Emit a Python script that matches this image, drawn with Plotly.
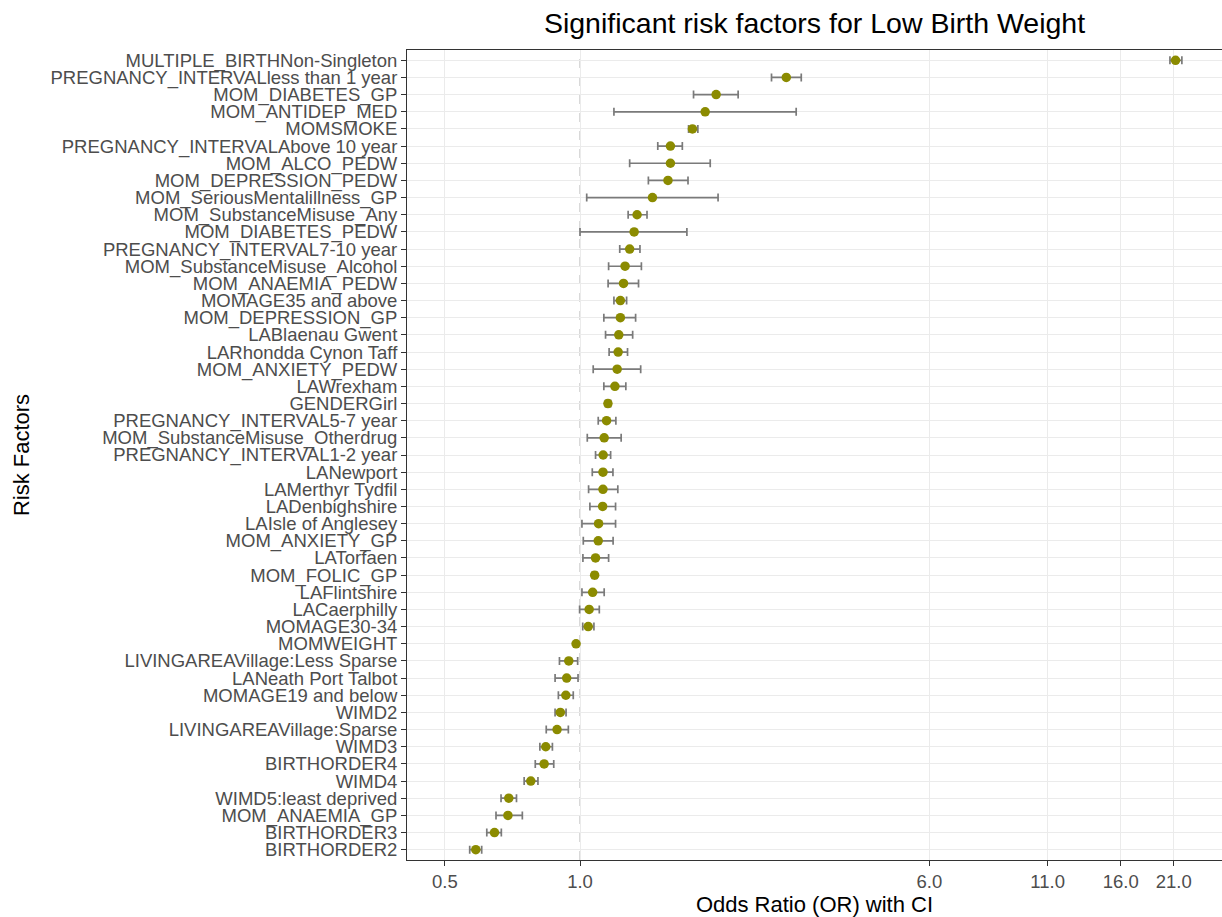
import plotly.graph_objects as go

# Risk factors listed top-to-bottom as in the chart
factors = [
    "MULTIPLE_BIRTHNon-Singleton", "PREGNANCY_INTERVALless than 1 year", "MOM_DIABETES_GP",
    "MOM_ANTIDEP_MED", "MOMSMOKE", "PREGNANCY_INTERVALAbove 10 year", "MOM_ALCO_PEDW",
    "MOM_DEPRESSION_PEDW", "MOM_SeriousMentalillness_GP", "MOM_SubstanceMisuse_Any",
    "MOM_DIABETES_PEDW", "PREGNANCY_INTERVAL7-10 year", "MOM_SubstanceMisuse_Alcohol",
    "MOM_ANAEMIA_PEDW", "MOMAGE35 and above", "MOM_DEPRESSION_GP", "LABlaenau Gwent",
    "LARhondda Cynon Taff", "MOM_ANXIETY_PEDW", "LAWrexham", "GENDERGirl",
    "PREGNANCY_INTERVAL5-7 year", "MOM_SubstanceMisuse_Otherdrug", "PREGNANCY_INTERVAL1-2 year",
    "LANewport", "LAMerthyr Tydfil", "LADenbighshire", "LAIsle of Anglesey", "MOM_ANXIETY_GP",
    "LATorfaen", "MOM_FOLIC_GP", "LAFlintshire", "LACaerphilly", "MOMAGE30-34", "MOMWEIGHT",
    "LIVINGAREAVillage:Less Sparse", "LANeath Port Talbot", "MOMAGE19 and below", "WIMD2",
    "LIVINGAREAVillage:Sparse", "WIMD3", "BIRTHORDER4", "WIMD4", "WIMD5:least deprived",
    "MOM_ANAEMIA_GP", "BIRTHORDER3", "BIRTHORDER2",
]
odds_ratio = [
    21.2, 2.88, 2.01, 1.90, 1.78, 1.59, 1.59, 1.57, 1.45, 1.34,
    1.32, 1.29, 1.26, 1.25, 1.23, 1.23, 1.22, 1.216, 1.21, 1.196,
    1.154, 1.146, 1.132, 1.126, 1.125, 1.125, 1.123, 1.10, 1.098, 1.083,
    1.078, 1.067, 1.048, 1.043, 0.98, 0.944, 0.934, 0.93, 0.904, 0.889,
    0.839, 0.832, 0.777, 0.694, 0.691, 0.645, 0.586,
]
ci_low = [
    20.6, 2.67, 1.79, 1.19, 1.745, 1.49, 1.29, 1.42, 1.035, 1.28,
    1.00, 1.226, 1.158, 1.155, 1.19, 1.13, 1.14, 1.161, 1.07, 1.13,
    1.14, 1.098, 1.038, 1.083, 1.065, 1.045, 1.052, 1.01, 1.017, 1.015,
    1.065, 1.01, 0.998, 1.014, 0.977, 0.90, 0.88, 0.895, 0.88, 0.841,
    0.814, 0.795, 0.751, 0.667, 0.65, 0.620, 0.568,
]
ci_high = [
    21.9, 3.11, 2.25, 3.03, 1.83, 1.69, 1.95, 1.74, 2.03, 1.41,
    1.73, 1.36, 1.37, 1.35, 1.27, 1.33, 1.31, 1.276, 1.365, 1.265,
    1.17, 1.202, 1.235, 1.17, 1.184, 1.214, 1.20, 1.20, 1.185, 1.158,
    1.09, 1.132, 1.104, 1.074, 0.983, 0.988, 0.99, 0.966, 0.931, 0.942,
    0.868, 0.874, 0.806, 0.722, 0.744, 0.668, 0.604,
]
tick_values = [0.5, 1.0, 6.0, 11.0, 16.0, 21.0]
tick_labels = ["0.5", "1.0", "6.0", "11.0", "16.0", "21.0"]

# plot bottom-to-top
cats = factors[::-1]
orr = odds_ratio[::-1]
lo = ci_low[::-1]
hi = ci_high[::-1]
err_plus = [h - o for h, o in zip(hi, orr)]
err_minus = [o - l for o, l in zip(orr, lo)]

FONT = "Liberation Sans, Arial, sans-serif"

fig = go.Figure()
fig.add_trace(go.Scatter(
    x=orr, y=cats, mode="markers",
    marker=dict(color="#8B8B00", size=9.5, line=dict(width=0)),
    error_x=dict(type="data", symmetric=False, array=err_plus, arrayminus=err_minus,
                 color="#7a7a7a", thickness=1.7, width=4),
    showlegend=False,
    hovertemplate="%{y}<br>OR=%{x}<extra></extra>",
))

fig.add_shape(type="line", xref="x", yref="paper", x0=1, x1=1, y0=0, y1=1,
              line=dict(color="#b3b3b3", width=1, dash="dash"), layer="between")

fig.update_layout(
    width=1222, height=917,
    margin=dict(l=407, r=0, t=50, b=57),
    paper_bgcolor="white", plot_bgcolor="white",
    font=dict(family=FONT, color="#000000"),
    title=dict(text="Significant risk factors for Low Birth Weight",
               font=dict(family=FONT, size=28.5, color="#000000"),
               x=0.5, xref="paper", xanchor="center",
               y=1 - 23 / 917, yref="container", yanchor="middle"),
    xaxis=dict(
        type="log", range=[-0.3853, 1.4298],
        tickvals=tick_values, ticktext=tick_labels,
        tickfont=dict(family=FONT, size=18.5, color="#4d4d4d"),
        ticks="outside", ticklen=5, tickcolor="#333333", tickwidth=1,
        showgrid=True, gridcolor="#ebebeb", gridwidth=1.3,
        showline=True, linecolor="#333333", linewidth=1, mirror=True,
        zeroline=False,
        title=dict(text="Odds Ratio (OR) with CI",
                   font=dict(family=FONT, size=22, color="#000000"), standoff=4),
    ),
    yaxis=dict(
        type="category", categoryorder="array", categoryarray=cats,
        tickmode="array", tickvals=cats, ticktext=cats,
        range=[-0.6, len(cats) - 0.4],
        tickfont=dict(family=FONT, size=18.5, color="#4d4d4d"),
        ticks="outside", ticklen=5, tickcolor="#333333", tickwidth=1,
        showgrid=True, gridcolor="#ebebeb", gridwidth=1.3,
        showline=True, linecolor="#333333", linewidth=1, mirror=True,
        zeroline=False,
        title=dict(text="Risk Factors",
                   font=dict(family=FONT, size=22, color="#000000"), standoff=14),
    ),
)

fig.write_html("out.html", config={"displayModeBar": False},
               post_script="document.body.style.margin='0';")
